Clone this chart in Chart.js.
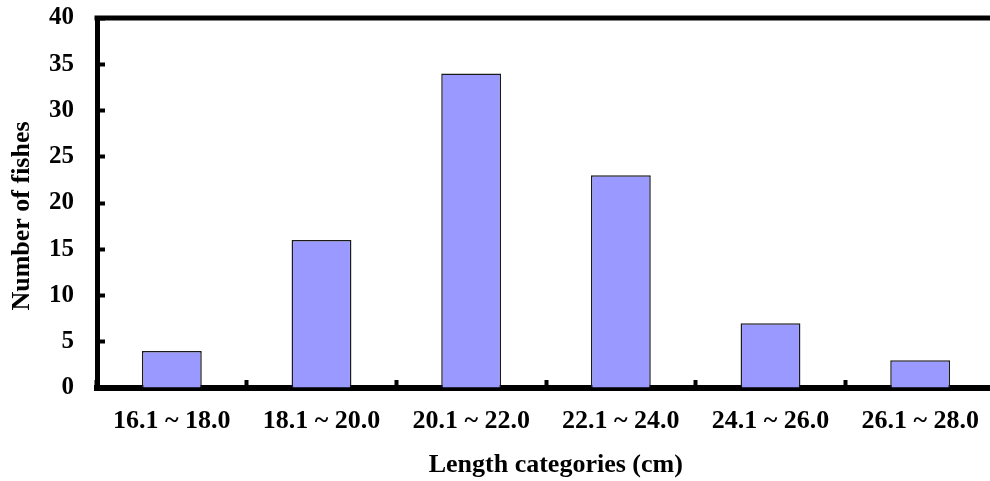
<!DOCTYPE html>
<html>
<head>
<meta charset="utf-8">
<script src="https://cdn.jsdelivr.net/npm/chart.js@4.4.1/dist/chart.umd.min.js"></script>
<style>
  html, body { margin: 0; padding: 0; background: #fff; overflow: hidden; }
  /* the original plot runs a few pixels past the right edge of the picture */
  #wrap { width: 995px; height: 481px; position: relative; }
</style>
</head>
<body>
<div id="wrap"><canvas id="chart"></canvas></div>
<script>
const categories = ['16.1 ~ 18.0', '18.1 ~ 20.0', '20.1 ~ 22.0', '22.1 ~ 24.0', '24.1 ~ 26.0', '26.1 ~ 28.0'];
const fishCounts = [4, 16, 34, 23, 7, 3];
const yTicks = [0, 5, 10, 15, 20, 25, 30, 35, 40];

const serif = '"Liberation Serif", "Times New Roman", serif';
const nb = '\u00a0';

// thick frame line along the top of the plot
const topFrame = {
  id: 'topFrame',
  afterDraw(chart) {
    const ctx = chart.ctx;
    const area = chart.chartArea;
    ctx.save();
    ctx.strokeStyle = '#000';
    ctx.lineWidth = 5;
    ctx.beginPath();
    ctx.moveTo(area.left - 2.5, area.top);
    ctx.lineTo(chart.width, area.top);
    ctx.stroke();
    ctx.restore();
  }
};

const ctx = document.getElementById('chart');
const chart = new Chart(ctx, {
  type: 'bar',
  data: {
    labels: categories,
    datasets: [{
      data: fishCounts,
      backgroundColor: '#9999FF',
      borderColor: '#1a1a1a',
      borderWidth: 1.5,
      categoryPercentage: 1,
      barPercentage: 0.4,
    }]
  },
  options: {
    responsive: true,
    maintainAspectRatio: false,
    animation: false,
    layout: { padding: { top: 18, right: 0, left: 0, bottom: 0 } },
    plugins: {
      legend: { display: false },
      tooltip: { enabled: false },
    },
    scales: {
      x: {
        grid: {
          offset: true,
          drawOnChartArea: false,
          drawTicks: true,
          tickLength: -8,
          tickWidth: 4,
          tickColor: '#000',
        },
        border: { display: true, color: '#000', width: 6 },
        ticks: {
          color: '#000',
          padding: 26,
          maxRotation: 0,
          autoSkip: false,
          font: { family: serif, size: 26, weight: 'bold' },
        },
        title: {
          display: true,
          // leading spaces nudge the centred title a little to the right, as in the original
          text: nb.repeat(3) + 'Length categories (cm)',
          color: '#000',
          padding: 0,
          font: { family: serif, size: 26, weight: 'bold' },
        },
        afterFit(scale) {
          scale.height = 93;
          scale.paddingLeft = 0;
          scale.paddingRight = 0;
        },
      },
      y: {
        min: 0,
        max: 40,
        afterBuildTicks(scale) { scale.ticks = yTicks.map(v => ({ value: v })); },
        grid: {
          drawOnChartArea: false,
          drawTicks: true,
          tickLength: -8,
          tickWidth: 4,
          tickColor: '#000',
        },
        border: { display: true, color: '#000', width: 5 },
        ticks: {
          color: '#000',
          padding: 31,
          font: { family: serif, size: 25, weight: 'bold' },
        },
        title: {
          display: true,
          text: 'Number of fishes' + nb.repeat(4),
          color: '#000',
          padding: { top: 7, bottom: 0 },
          font: { family: serif, size: 26, weight: 'bold' },
        },
        afterFit(scale) {
          scale.width = 97;
          scale.paddingTop = 0;
          scale.paddingBottom = 0;
        },
      }
    }
  },
  plugins: [topFrame]
});
</script>
</body>
</html>
